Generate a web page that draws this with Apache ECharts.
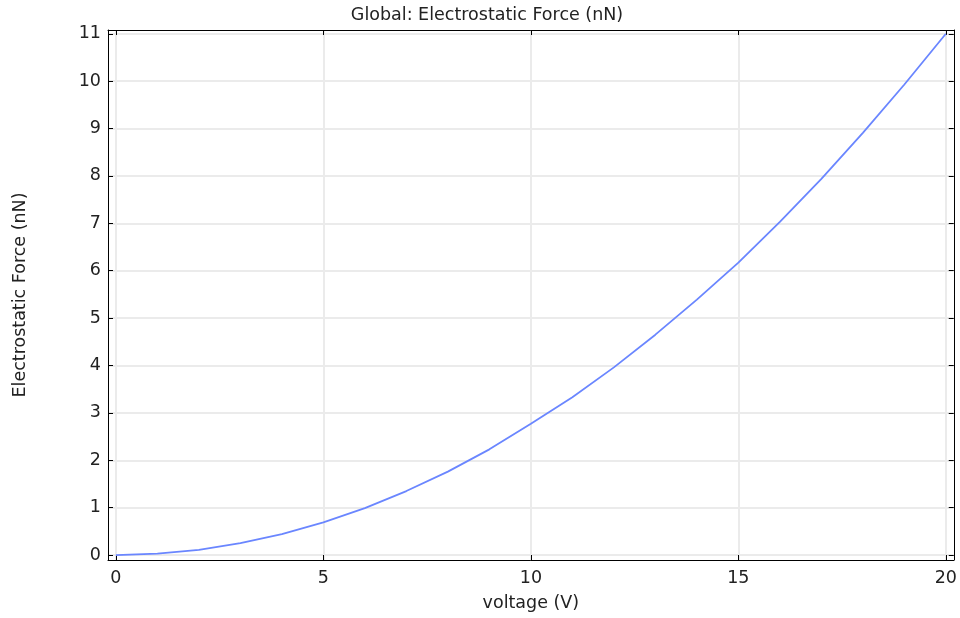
<!DOCTYPE html>
<html><head><meta charset="utf-8">
<script src="https://cdn.jsdelivr.net/npm/echarts@6/dist/echarts.min.js"></script>
<style>html,body{margin:0;padding:0;background:#fff}#c{width:960px;height:618px}</style>
</head><body><div id="c"></div>
<script>
const voltage = [0,1,2,3,4,5,6,7,8,9,10,11,12,13,14,15,16,17,18,19,20];
const force = [0,0.03,0.11,0.25,0.44,0.69,0.99,1.35,1.76,2.23,2.77,3.33,3.96,4.65,5.39,6.17,7.03,7.94,8.91,9.93,11.0];
const xTicks = [0,5,10,15,20];
const yTicks = [0,1,2,3,4,5,6,7,8,9,10,11];
const FONT = 'DejaVu Sans';
const FS = 17.5;
const chart = echarts.init(document.getElementById('c'));
const tickStyle = {show:true, inside:true, length:5, lineStyle:{color:'#000', width:1}};
const splitStyle = {show:true, lineStyle:{color:'#ebebeb', width:2}};
chart.setOption({
  animation:false,
  title:{text:'Global: Electrostatic Force (nN)', left:482, top:1, textAlign:'center',
    textStyle:{fontFamily:FONT, fontSize:FS, fontWeight:'normal', color:'#222'}},
  grid:{left:108, right:2, top:30, bottom:58},
  xAxis:[{
    type:'value', min:-0.19, max:20.19, position:'bottom',
    name:'voltage (V)', nameLocation:'middle', nameGap:34,
    nameTextStyle:{fontFamily:FONT, fontSize:FS, color:'#222'},
    axisLine:{show:true, onZero:false, lineStyle:{color:'#000', width:1}},
    axisTick:Object.assign({customValues:xTicks}, tickStyle),
    axisLabel:{customValues:xTicks, fontFamily:FONT, fontSize:FS, color:'#222', margin:9},
    splitLine:splitStyle
  },{
    type:'value', min:-0.19, max:20.19, position:'top',
    axisLine:{show:true, onZero:false, lineStyle:{color:'#000', width:1}},
    axisTick:Object.assign({customValues:xTicks}, tickStyle),
    axisLabel:{show:false, customValues:xTicks},
    splitLine:{show:false}
  }],
  yAxis:[{
    type:'value', min:-0.105, max:11.08, position:'left',
    name:'Electrostatic Force (nN)', nameLocation:'middle', nameGap:79,
    nameTextStyle:{fontFamily:FONT, fontSize:FS, color:'#222'},
    axisLine:{show:true, onZero:false, lineStyle:{color:'#000', width:1}},
    axisTick:Object.assign({customValues:yTicks}, tickStyle),
    axisLabel:{customValues:yTicks, fontFamily:FONT, fontSize:FS, color:'#222', margin:7},
    splitLine:splitStyle
  },{
    type:'value', min:-0.105, max:11.08, position:'right',
    axisLine:{show:true, onZero:false, lineStyle:{color:'#000', width:1}},
    axisTick:Object.assign({customValues:yTicks}, tickStyle),
    axisLabel:{show:false, customValues:yTicks},
    splitLine:{show:false}
  }],
  series:[{
    type:'line', xAxisIndex:0, yAxisIndex:0,
    data: voltage.map((v,i)=>[v, force[i]]),
    showSymbol:false, smooth:false,
    lineStyle:{color:'#6a86ff', width:1.8}
  }]
});
</script></body></html>
